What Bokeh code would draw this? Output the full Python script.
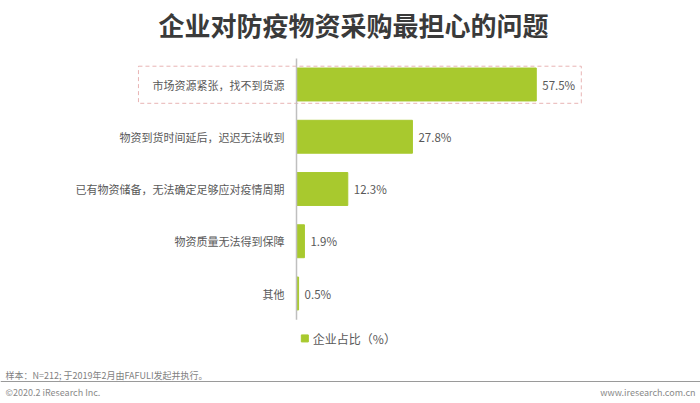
from bokeh.plotting import figure
from bokeh.models import Range1d, ColumnDataSource
from bokeh.core.properties import value
from bokeh.embed import file_html
from bokeh.resources import INLINE

# ---- data ----
categories = ["市场资源紧张，找不到货源", "物资到货时间延后，迟迟无法收到",
              "已有物资储备，无法确定足够应对疫情周期", "物资质量无法得到保障", "其他"]
values = [57.5, 27.8, 12.3, 1.9, 0.5]
value_labels = ["57.5%", "27.8%", "12.3%", "1.9%", "0.5%"]
series_name = "企业占比（%）"
title_text = "企业对防疫物资采购最担心的问题"
note_text = "样本：N=212; 于2019年2月由FAFULI发起并执行。"
copyright_text = "©2020.2 iResearch Inc."
site_text = "www.iresearch.com.cn"

FONT = value("Noto Sans CJK SC")
GREEN = "#a8c92e"
GRAY = "#595959"

W, H = 700, 403
px_per_unit = 4.17
x0_px = 296
row_px = 52.25
y0_px = 84

p = figure(width=W, height=H, output_backend="svg", toolbar_location=None,
           x_range=Range1d(-x0_px / px_per_unit, (W - x0_px) / px_per_unit),
           y_range=Range1d((H - y0_px) / row_px, -y0_px / row_px),
           min_border=0, outline_line_color=None)
p.axis.visible = False
p.grid.visible = False
p.background_fill_color = "white"
p.border_fill_color = "white"

idx = list(range(len(categories)))
src = ColumnDataSource(dict(y=idx, v=values, cat=categories, lab=value_labels))

# highlight box around first row
p.quad(left=[-37.9], right=[68.3], top=[idx[0] - 0.35], bottom=[idx[0] + 0.36],
       fill_color=None, line_color="#e8b4b4", line_dash="4 3", line_width=1)

p.hbar(y="y", left=0, right="v", height=0.63, color=GREEN, source=src)

# axis line
p.segment(x0=[0], y0=[-0.5], x1=[0], y1=[len(categories) - 0.5],
          line_color="#bfbfbf", line_width=1.5)

p.text(x=0, y="y", text="cat", source=src, x_offset=-12, text_align="right",
       text_baseline="middle", text_font=FONT, text_font_size="11px", text_color=GRAY)
p.text(x="v", y="y", text="lab", source=src, x_offset=6, text_align="left",
       text_baseline="middle", text_font=FONT, text_font_size="11.5px", text_color=GRAY)

# legend
leg_y = len(categories) - 0.5 + 0.36
p.scatter(x=[2.0], y=[leg_y], marker="square", size=7, color=GREEN)
p.text(x=[2.0], y=[leg_y], text=[series_name], x_offset=8, text_align="left",
       text_baseline="middle", text_font=FONT, text_font_size="12px", text_color=GRAY)

# title
xs = p.x_range
p.text(x=[(xs.start + xs.end) / 2], y=[-y0_px / row_px], x_offset=3, y_offset=24,
       text=[title_text], text_align="center", text_baseline="middle", text_font=FONT,
       text_font_size="26px", text_font_style="bold", text_color="#3a3a3a")

# footer
ybot = (H - y0_px) / row_px
p.text(x=[xs.start], y=[ybot], x_offset=5, y_offset=-28, text=[note_text],
       text_align="left", text_baseline="middle", text_font=FONT,
       text_font_size="9px", text_color="#7f7f7f")
p.text(x=[xs.start], y=[ybot], x_offset=5, y_offset=-11, text=[copyright_text],
       text_align="left", text_baseline="middle", text_font=FONT,
       text_font_size="9px", text_color="#8a8a8a")
p.text(x=[xs.end], y=[ybot], x_offset=-5, y_offset=-11, text=[site_text],
       text_align="right", text_baseline="middle", text_font=FONT,
       text_font_size="9px", text_color="#8a8a8a")
line_y = ybot - 22 / row_px
p.segment(x0=[xs.start], x1=[xs.end], y0=[line_y], y1=[line_y],
          line_color="#9a9a9a", line_width=1)

open("out.html", "w").write(file_html(p, INLINE))
